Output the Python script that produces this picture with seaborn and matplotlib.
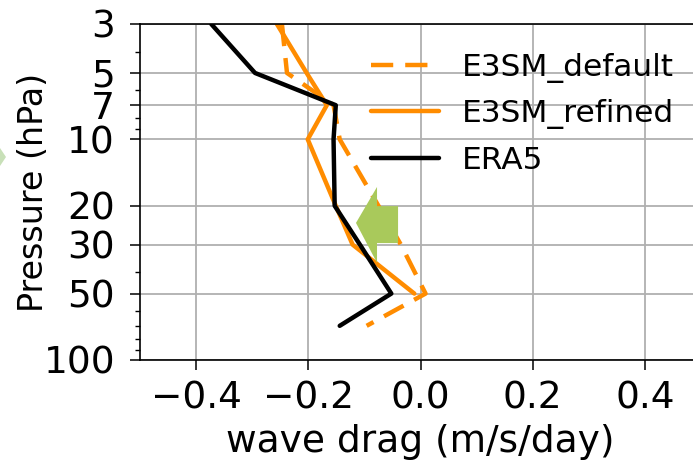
import numpy as np
import pandas as pd
import matplotlib
matplotlib.use("Agg")
import matplotlib.pyplot as plt
from matplotlib.patches import Polygon
import seaborn as sns

# ---- data ----
levels = [3, 5, 7, 10, 20, 30, 50, 70]
e3sm_default = [-0.247, -0.238, -0.155, -0.144, -0.075, -0.035, 0.009, -0.096]
e3sm_refined = [-0.256, -0.203, -0.167, -0.201, -0.151, -0.121, -0.011, np.nan]
era5 = [-0.373, -0.295, -0.151, -0.155, -0.153, -0.108, -0.052, -0.144]
series_names = ["E3SM_default", "E3SM_refined", "ERA5"]
ytick_vals = [3, 5, 7, 10, 20, 30, 50, 100]
ytick_labels = ["3", "5", "7", "10", "20", "30", "50", "100"]
xtick_vals = [-0.4, -0.2, 0.0, 0.2, 0.4]

sns.set_style("ticks")
plt.rcParams['font.family'] = ['DejaVu Sans']
plt.rcParams.update({"text.color": "black", "axes.labelcolor": "black",
                     "xtick.color": "black", "ytick.color": "black"})

W, H = 693, 472
fig = plt.figure(figsize=(W / 100, H / 100), dpi=100)
ax = fig.add_axes([140 / W, 1 - 360 / H, (701 - 140) / W, (360 - 24) / H])

orange = "#ff8c00"
styles = {
    "E3SM_default": dict(color=orange, linestyle=(0, (5.0, 2.7))),
    "E3SM_refined": dict(color=orange, linestyle="-"),
    "ERA5": dict(color="black", linestyle="-"),
}
for name, vals in zip(series_names, [e3sm_default, e3sm_refined, era5]):
    df = pd.DataFrame({"p": levels, "drag": vals}).dropna()
    sns.lineplot(data=df, x="drag", y="p", sort=False, estimator=None, ax=ax,
                 lw=3.2, label=name, **styles[name])

ax.set_yscale("log")
ax.set_ylim(100, 3)
ax.set_xlim(-0.5, 0.5)
ax.set_yticks(ytick_vals)
ax.set_yticklabels(ytick_labels)
ax.yaxis.set_minor_formatter(matplotlib.ticker.NullFormatter())
ax.set_xticks(xtick_vals)
ax.set_xticklabels(["\u22120.4", "\u22120.2", "0.0", "0.2", "0.4"])

ax.grid(True, which="major", color="#b0b0b0", lw=1.3)
ax.set_axisbelow(True)
ax.tick_params(axis="both", which="major", labelsize=27, length=7, width=1.1, color="black")
ax.tick_params(axis="y", which="major", pad=11)
ax.tick_params(axis="x", which="major", pad=8)
ax.tick_params(axis="y", which="minor", length=3.6, width=1.0, color="black")
for s in ax.spines.values():
    s.set_color("black")
    s.set_linewidth(1.2)

ax.set_xlabel("wave drag (m/s/day)", fontsize=27, labelpad=5)
ax.set_ylabel("Pressure (hPa)", fontsize=24, labelpad=-5)

leg = ax.legend(loc="upper left", bbox_to_anchor=(0.389, 0.952), frameon=False,
                fontsize=22.5, handlelength=2.2, handletextpad=0.72,
                labelspacing=0.53, borderaxespad=0)

# green annotation arrow (axes fraction coordinates)
arrow = Polygon([(0.385, 0.408), (0.4225, 0.515), (0.4225, 0.458), (0.460, 0.458),
                 (0.460, 0.348), (0.4225, 0.348), (0.4225, 0.289)],
                closed=True, transform=ax.transAxes, facecolor="#a9c95b",
                edgecolor="none", zorder=10)
ax.add_patch(arrow)

# faded arrow tip at left figure edge
tip = Polygon([(0, 1 - 148 / H), (6 / W, 1 - 157 / H), (0, 1 - 166 / H)], closed=True,
              transform=fig.transFigure, facecolor="#c8e0b8", edgecolor="none")
fig.patches.append(tip)

fig.savefig("out.png", dpi=100)
